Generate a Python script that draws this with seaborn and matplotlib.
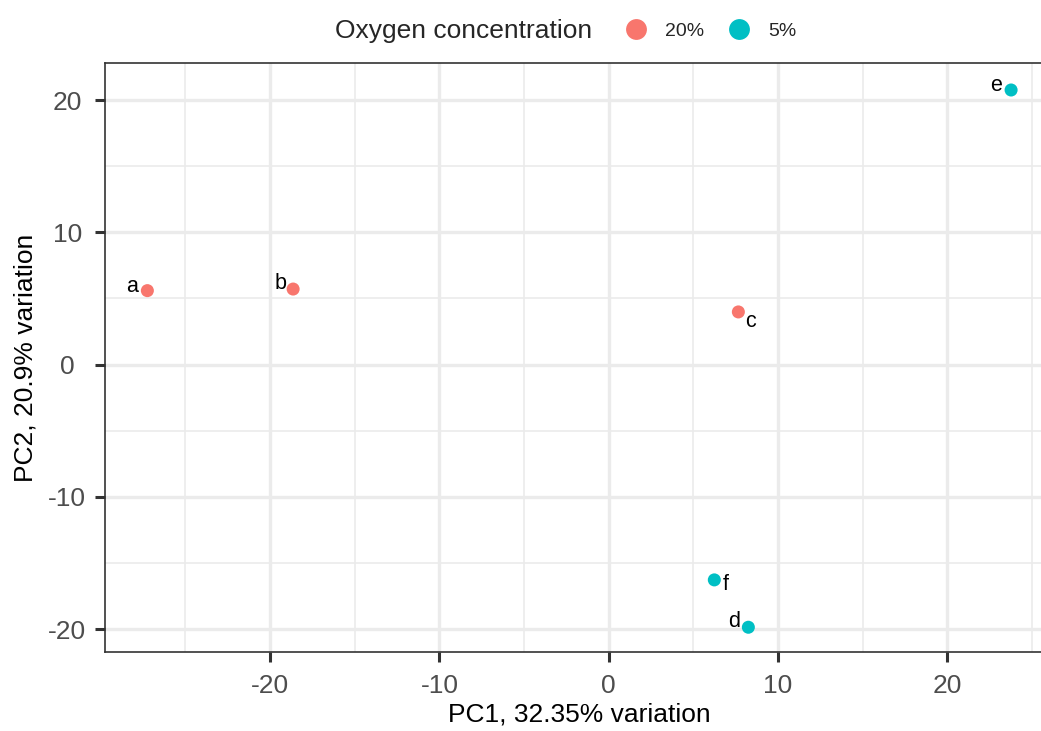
import matplotlib
matplotlib.use("Agg")
import matplotlib.pyplot as plt
import seaborn as sns
import pandas as pd
from matplotlib.ticker import MultipleLocator

# PCA scores
samples = ["a", "b", "c", "d", "e", "f"]
pc1 = [-27.25, -18.64, 7.66, 8.25, 23.77, 6.24]
pc2 = [5.59, 5.71, 3.98, -19.86, 20.76, -16.28]
oxygen = ["20%", "20%", "20%", "5%", "5%", "5%"]
palette = {"20%": "#F8766D", "5%": "#00BFC4"}

# label offsets (points), similar to ggrepel placement
offsets = {"a": (-11, 3), "b": (-9, 4), "c": (9, -7), "d": (-10, 4), "e": (-11, 3), "f": (8, -3)}

df = pd.DataFrame({"sample": samples, "PC1": pc1, "PC2": pc2, "oxygen": oxygen})

sns.set_style("white")
plt.rcParams["font.family"] = ["Liberation Sans", "DejaVu Sans"]
plt.rcParams["axes.unicode_minus"] = False

fig = plt.figure(figsize=(10.41, 7.31), dpi=100)
# panel runs slightly past the right edge, as in the cropped original
ax = fig.add_axes([0.1009, 0.1081, 0.9107, 0.8057])

sns.scatterplot(data=df, x="PC1", y="PC2", hue="oxygen", palette=palette,
                hue_order=["20%", "5%"], s=88, edgecolor="none", ax=ax, zorder=3)

for _, r in df.iterrows():
    dx, dy = offsets[r["sample"]]
    ax.annotate(r["sample"], (r["PC1"], r["PC2"]), xytext=(dx, dy),
                textcoords="offset points", ha="center", va="center",
                fontsize=15.5, color="black", zorder=4)

ax.set_xlim(-29.75, 26.25)
ax.set_ylim(-21.73, 22.8)
ax.xaxis.set_major_locator(MultipleLocator(10))
ax.yaxis.set_major_locator(MultipleLocator(10))
ax.xaxis.set_minor_locator(MultipleLocator(5))
ax.yaxis.set_minor_locator(MultipleLocator(5))
ax.grid(which="major", color="#EBEBEB", linewidth=2.4, zorder=0)
ax.grid(which="minor", color="#EBEBEB", linewidth=1.2, zorder=0)
ax.set_axisbelow(True)

for s in ax.spines.values():
    s.set_color("#333333")
    s.set_linewidth(1.2)
    s.set_visible(True)

ax.tick_params(which="major", length=7.2, width=2.2, color="#333333",
               labelsize=19, labelcolor="#4D4D4D", bottom=True, left=True)
ax.tick_params(axis="x", which="major", pad=9)
ax.tick_params(axis="y", which="major", pad=20)
ax.tick_params(which="minor", length=0)
plt.setp(ax.get_yticklabels(), ha="center")

ax.set_xlabel("PC1, 32.35% variation", fontsize=19, color="black")
ax.set_ylabel("PC2, 20.9% variation", fontsize=19, color="black")
ax.xaxis.set_label_coords(0.5, -0.0866)
ax.yaxis.set_label_coords(-0.0711, 0.5)

handles, labels = ax.get_legend_handles_labels()
ax.get_legend().remove()
for h in handles:
    if hasattr(h, "set_markersize"):
        h.set_markersize(15)
    else:
        h.set_sizes([220])
fig.text(0.322, 0.957, "Oxygen concentration", fontsize=19, ha="left", va="center")
fig.legend(handles, labels, loc="center left", bbox_to_anchor=(0.592, 0.957),
           ncol=2, frameon=False, fontsize=14, handletextpad=0.5,
           columnspacing=0.8, borderaxespad=0, borderpad=0)

fig.savefig("out.png", dpi=100)
